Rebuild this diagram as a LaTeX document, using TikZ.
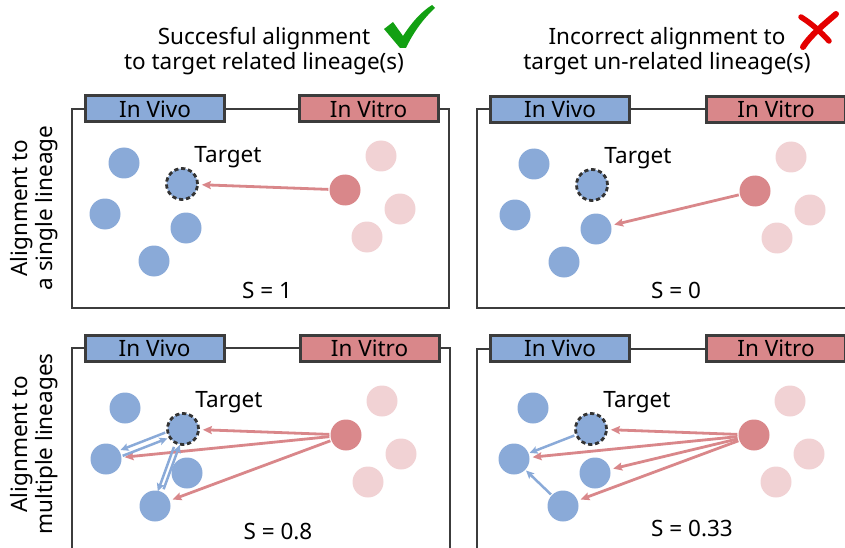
\documentclass[tikz,border=0pt]{standalone}
\usepackage{fontspec}
\setmainfont{Noto Sans}
\usetikzlibrary{arrows.meta}

\definecolor{vivoblue}{RGB}{138,170,216}
\definecolor{vitrored}{RGB}{217,135,138}
\definecolor{vitropale}{RGB}{241,210,212}
\definecolor{framegray}{RGB}{60,60,60}
\definecolor{okgreen}{RGB}{18,160,18}
\definecolor{badred}{RGB}{228,0,0}

\tikzset{
    txt/.style={font=\fontsize{22.5}{25.5}\selectfont, inner sep=0pt},
    cell/.style={circle, inner sep=0pt, minimum size=31pt},
    vivocell/.style={cell, fill=vivoblue},
    targetcell/.style={cell, fill=vivoblue, draw=framegray!85!black, line width=2.8pt,
        dash pattern=on 4.2pt off 2.8pt},
    vitrocell/.style={cell, fill=vitrored},
    palecell/.style={cell, fill=vitropale},
    panel/.style={draw=framegray, line width=2.5pt},
    tab/.style={txt, draw=framegray, line width=3pt, minimum width=139pt,
        minimum height=26pt},
    vivotab/.style={tab, fill=vivoblue},
    vitrotab/.style={tab, fill=vitrored},
    redarrow/.style={draw=vitrored, line width=2.8pt, shorten >=3pt, shorten <=1pt,
        -{Stealth[length=9pt, width=8pt, inset=1.5pt]}},
    bluearrow/.style={draw=vivoblue, line width=2.5pt, shorten >=1pt, shorten <=1pt,
        -{Stealth[length=8pt, width=7.5pt, inset=1.5pt]}},
}

% the nine cells of one panel, prefixed by #1
\newcommand{\lineagecells}[1]{%
    \node[vivocell] (#1c1) at (124,163) {};
    \node[vivocell] (#1c2) at (105,214) {};
    \node[targetcell] (#1t) at (182,184) {};
    \node[vivocell] (#1c4) at (186,228) {};
    \node[vivocell] (#1c5) at (154,261) {};
    \node[vitrocell] (#1r) at (345,190) {};
    \node[palecell] (#1p1) at (381,156) {};
    \node[palecell] (#1p2) at (400,209) {};
    \node[palecell] (#1p3) at (367,237) {};
    \node[txt] (#1lab) at (228,157) {Target};
}

\begin{document}
\begin{tikzpicture}[x=1pt, y=-1pt]
    \useasboundingbox (0,0) rectangle (845,548);
    \clip (0,0) rectangle (845,548);

    % column titles
    \node[txt, align=center] (titleok) at (264,51) {Succesful alignment\\to target related lineage(s)};
    \node[txt, align=center] (titlebad) at (667,51) {Incorrect alignment to\\target un-related lineage(s)};
    \fill[okgreen] (384,29) -- (393,22) -- (403,36) .. controls (412,22) and (421,12) .. (432,5)
        -- (435,8) .. controls (423,19) and (413,33) .. (406,48) -- (400,48) -- cycle;
    \draw[badred, line width=6pt, line cap=round] (836,14) .. controls (822,26) and (810,36) .. (803,47);
    \draw[badred, line width=5.5pt, line cap=round] (801,17) .. controls (812,24) and (821,32) .. (829,41);

    % row labels
    \node[txt, align=center, rotate=90] (rowsingle) at (34,208) {Alignment to\\a single lineage};
    \node[txt, align=center, rotate=90] (rowmulti) at (34,444) {Alignment to\\multiple lineages};

    % frames
    \draw[panel] (72,109) rectangle (449,308);
    \draw[panel] (477,109) rectangle (860,308);
    \draw[panel] (72,348) rectangle (450,560);
    \draw[panel] (477,349) rectangle (860,560);

    % tabs
    \node[vivotab] (Avivo) at (155,109) {In Vivo};
    \node[vitrotab] (Avitro) at (368.5,109) {In Vitro};
    \node[vivotab] (Bvivo) at (560,109.5) {In Vivo};
    \node[vitrotab] (Bvitro) at (776,109.5) {In Vitro};
    \node[vivotab] (Cvivo) at (154.5,348.5) {In Vivo};
    \node[vitrotab] (Cvitro) at (369.5,348.5) {In Vitro};
    \node[vivotab] (Dvivo) at (560,348.5) {In Vivo};
    \node[vitrotab] (Dvitro) at (776,348.5) {In Vitro};

    % single lineage, correct
    \lineagecells{A}
    \draw[redarrow] (Ar) -- (At);
    \node[txt] (Ascore) at (267,290) {S = 1};

    % single lineage, incorrect
    \begin{scope}[shift={(410,1)}]
        \lineagecells{B}
    \end{scope}
    \draw[redarrow] (Br) -- (Bc4);
    \node[txt] (Bscore) at (676,290) {S = 0};

    % multiple lineages, correct
    \begin{scope}[shift={(1,245)}]
        \lineagecells{C}
    \end{scope}
    \draw[redarrow] (Cr) -- (Ct);
    \draw[redarrow] (Cr) -- (Cc2);
    \draw[redarrow] (Cr) -- (Cc5);
    \draw[bluearrow, transform canvas={shift={(-1.1pt,2.9pt)}}] (Ct) -- (Cc2);
    \draw[bluearrow, transform canvas={shift={(1.1pt,-2.9pt)}}] (Cc2) -- (Ct);
    \draw[bluearrow, transform canvas={shift={(-2.9pt,-1.05pt)}}] (Ct) -- (Cc5);
    \draw[bluearrow, transform canvas={shift={(2.9pt,1.05pt)}}] (Cc5) -- (Ct);
    \node[txt] (Cscore) at (278,531) {S = 0.8};

    % multiple lineages, incorrect
    \begin{scope}[shift={(409,245)}]
        \lineagecells{D}
    \end{scope}
    \draw[redarrow] (Dr) -- (Dt);
    \draw[redarrow] (Dr) -- (Dc2);
    \draw[redarrow] (Dr) -- (Dc4);
    \draw[redarrow] (Dr) -- (Dc5);
    \draw[bluearrow] (Dt) -- (Dc2);
    \draw[bluearrow] (Dc5) -- (Dc2);
    \node[txt] (Dscore) at (692,528) {S = 0.33};
\end{tikzpicture}
\end{document}
